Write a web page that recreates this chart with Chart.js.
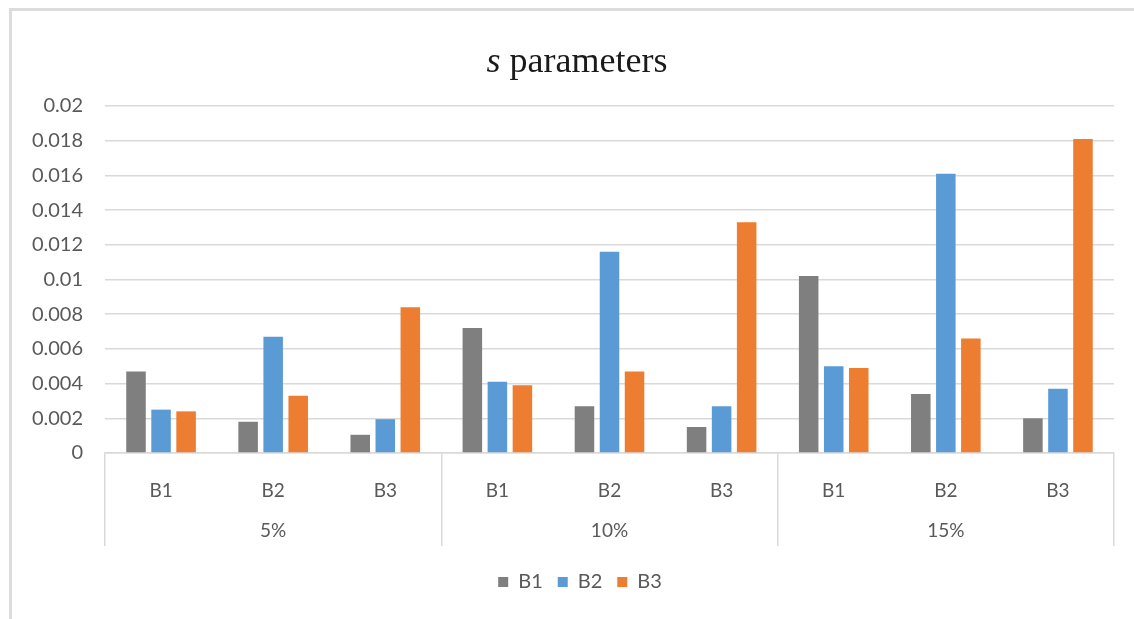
<!DOCTYPE html>
<html>
<head>
<meta charset="utf-8">
<script src="https://cdn.jsdelivr.net/npm/chart.js@4.4.1/dist/chart.umd.min.js"></script>
<style>
  html, body { margin: 0; padding: 0; background: #ffffff; }
  #wrap { position: relative; width: 1134px; height: 619px; }
</style>
</head>
<body>
<div id="wrap"><canvas id="chart" width="1134" height="619"></canvas></div>
<script>
// Outer grouping (percentage level) and inner categories
const groups = ['5%', '10%', '15%'];
const members = ['B1', 'B2', 'B3'];

// Series names and values, one per (group, member) pair in reading order
const seriesNames = ['B1', 'B2', 'B3'];
const b1Values = [0.0047, 0.0018, 0.00105, 0.0072, 0.0027, 0.0015, 0.0102, 0.0034, 0.0020];
const b2Values = [0.0025, 0.0067, 0.00195, 0.0041, 0.0116, 0.0027, 0.0050, 0.0161, 0.0037];
const b3Values = [0.0024, 0.0033, 0.0084, 0.0039, 0.0047, 0.0133, 0.0049, 0.0066, 0.0181];

// Value-axis tick labels
const yTickLabels = ['0', '0.002', '0.004', '0.006', '0.008', '0.01', '0.012', '0.014', '0.016', '0.018', '0.02'];

const seriesColors = ['#7f7f7f', '#5b9bd5', '#ed7d31'];
const textColor = '#595959';
const gridColor = '#d9d9d9';
const uiFont = 'Lato';

// Two-level category labels: the group name sits under the middle member
const labels = [];
groups.forEach(g => {
  members.forEach((m, i) => {
    labels.push(i === 1 ? [m, g] : [m]);
  });
});

const datasets = [b1Values, b2Values, b3Values].map((vals, k) => ({
  label: seriesNames[k],
  data: vals,
  backgroundColor: seriesColors[k],
  borderWidth: 0,
  categoryPercentage: 0.67,
  barPercentage: 0.78
}));

// Light frame along the left and top edges
const framePlugin = {
  id: 'frame',
  beforeDraw(chart) {
    const c = chart.ctx;
    c.save();
    c.fillStyle = '#ffffff';
    c.fillRect(0, 0, chart.width, chart.height);
    c.fillStyle = '#dcdcdc';
    c.fillRect(9, 8, 3, chart.height - 8);
    c.fillRect(9, 8, chart.width - 9, 3);
    c.restore();
  }
};

// Centre the legend on the framed area rather than the plot box
const legendShift = {
  id: 'legendShift',
  afterLayout(chart) {
    const lg = chart.legend;
    if (!lg) return;
    const dx = 13;
    lg.left += dx;
    lg.right += dx;
    if (lg.legendHitBoxes) lg.legendHitBoxes.forEach(b => { b.left += dx; });
  }
};

// Title with an italic symbol followed by upright text
const titlePlugin = {
  id: 'mixedTitle',
  afterDraw(chart) {
    const c = chart.ctx;
    const sym = 's';
    const rest = ' parameters';
    c.save();
    c.fillStyle = '#1a1a1a';
    c.textBaseline = 'alphabetic';
    c.font = 'italic 36px "Liberation Serif"';
    const w1 = c.measureText(sym).width;
    c.font = '36px "Liberation Serif"';
    const w2 = c.measureText(rest).width;
    const cx = (12 + chart.width) / 2 + 4;
    let x = cx - (w1 + w2) / 2;
    const y = 72;
    c.font = 'italic 36px "Liberation Serif"';
    c.fillText(sym, x, y);
    c.font = '36px "Liberation Serif"';
    c.fillText(rest, x + w1, y);
    c.restore();
  }
};

new Chart(document.getElementById('chart'), {
  type: 'bar',
  data: { labels, datasets },
  plugins: [framePlugin, legendShift, titlePlugin],
  options: {
    responsive: false,
    animation: false,
    layout: { padding: { left: 20, right: 20, top: 106, bottom: 17 } },
    plugins: {
      title: { display: false },
      tooltip: { enabled: false },
      legend: {
        position: 'bottom',
        labels: {
          boxWidth: 10,
          boxHeight: 10,
          padding: 15,
          color: textColor,
          font: { family: uiFont, size: 20 }
        }
      }
    },
    scales: {
      x: {
        offset: true,
        border: { display: true, color: gridColor, width: 1.5 },
        grid: {
          offset: true,
          drawOnChartArea: false,
          drawTicks: true,
          tickLength: 93,
          lineWidth: 1.5,
          color: (ctx) => (ctx.type !== 'tick' || ctx.index % members.length === 0) ? gridColor : 'rgba(0,0,0,0)'
        },
        ticks: {
          autoSkip: false,
          maxRotation: 0,
          padding: -75,
          color: textColor,
          font: { family: uiFont, size: 19, lineHeight: '40px' }
        },
        afterFit(scale) { scale.height = 104; }
      },
      y: {
        min: 0,
        max: 0.02,
        border: { display: false },
        grid: { color: gridColor, lineWidth: 1.5, drawTicks: false },
        ticks: {
          stepSize: 0.002,
          padding: 22,
          color: textColor,
          font: { family: uiFont, size: 20 },
          callback: (v, i) => yTickLabels[i]
        },
        afterFit(scale) { scale.width = 85; }
      }
    }
  }
});
</script>
</body>
</html>
